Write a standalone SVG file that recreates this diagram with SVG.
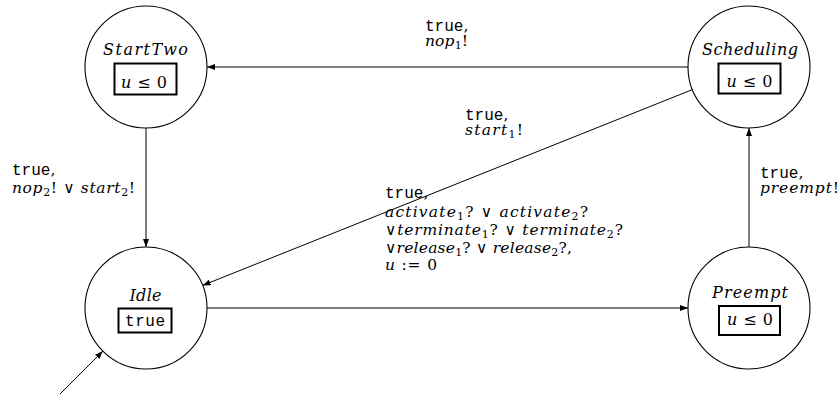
<svg xmlns="http://www.w3.org/2000/svg" width="840" height="394" viewBox="0 0 840 394">
<style>
.bg{fill:#fff}
.node{fill:#fff;stroke:#000;stroke-width:1.1}
.inv{fill:none;stroke:#000;stroke-width:2}
.edge{fill:none;stroke:#000;stroke-width:1}
.m{font-family:'DejaVu Serif','Liberation Serif',serif;font-size:16px;font-style:italic;fill:#000}
.e{font-family:'DejaVu Serif','Liberation Serif',serif;font-size:15.5px;font-style:italic;fill:#000}
.r{font-style:normal}
.s{font-size:11px;font-style:normal}
.tt{font-family:'Liberation Mono','DejaVu Sans Mono',monospace;font-size:16px;font-style:normal}
</style>
<defs>
<marker id="arr" viewBox="0 0 8 6" markerWidth="8" markerHeight="6" refX="8" refY="3" orient="auto" markerUnits="userSpaceOnUse">
<path d="M0,0 L8,3 L0,6 z" fill="#000"/>
</marker>
</defs>
<rect class="bg" x="0" y="0" width="840" height="394"/>
<g id="connectors">
<line class="edge" x1="688" y1="67" x2="207" y2="67" marker-end="url(#arr)"/>
<line class="edge" x1="146" y1="128" x2="146" y2="247" marker-end="url(#arr)"/>
<line class="edge" x1="692.4" y1="89.6" x2="202.6" y2="285.4" marker-end="url(#arr)"/>
<line class="edge" x1="207" y1="308" x2="688" y2="308" marker-end="url(#arr)"/>
<line class="edge" x1="749" y1="247" x2="749" y2="128" marker-end="url(#arr)"/>
<line class="edge" x1="60" y1="394" x2="102.9" y2="351.1" marker-end="url(#arr)"/>
</g>
<g id="node-starttwo">
<circle class="node" cx="146" cy="67" r="61"/>
<text class="m" x="145.5" y="55" text-anchor="middle" textLength="85" lengthAdjust="spacing">StartTwo</text>
<rect class="inv" x="114.5" y="63.5" width="62" height="31"/>
<text class="m" x="144" y="88" text-anchor="middle" textLength="46" lengthAdjust="spacing">u<tspan class="r"> ≤ 0</tspan></text>
</g>
<g id="node-scheduling">
<circle class="node" cx="749" cy="67" r="61"/>
<text class="m" x="750" y="55" text-anchor="middle" textLength="96" lengthAdjust="spacing">Scheduling</text>
<rect class="inv" x="718.5" y="63.5" width="62" height="30"/>
<text class="m" x="749.5" y="87" text-anchor="middle" textLength="46" lengthAdjust="spacing">u<tspan class="r"> ≤ 0</tspan></text>
</g>
<g id="node-idle">
<circle class="node" cx="146" cy="308" r="61"/>
<text class="m" x="145.5" y="301" text-anchor="middle" textLength="32" lengthAdjust="spacing">Idle</text>
<rect class="inv" x="118.5" y="308.5" width="53" height="24"/>
<text class="tt" x="145" y="326" text-anchor="middle" textLength="40" lengthAdjust="spacing">true</text>
</g>
<g id="node-preempt">
<circle class="node" cx="749" cy="308" r="61"/>
<text class="m" x="750" y="298" text-anchor="middle" textLength="76" lengthAdjust="spacing">Preempt</text>
<rect class="inv" x="719" y="306" width="61" height="29"/>
<text class="m" x="750" y="325" text-anchor="middle" textLength="46" lengthAdjust="spacing">u<tspan class="r"> ≤ 0</tspan></text>
</g>
<g id="labels">
<text class="e" x="425" y="31"><tspan class="tt">true</tspan><tspan class="r">,</tspan></text>
<text class="e" x="425" y="46" textLength="43" lengthAdjust="spacing">nop<tspan class="s" dy="3">1</tspan><tspan class="r" dy="-3">!</tspan></text>
<text class="e" x="465" y="120"><tspan class="tt">true</tspan><tspan class="r">,</tspan></text>
<text class="e" x="465" y="134.5" textLength="58" lengthAdjust="spacing">start<tspan class="s" dy="3">1</tspan><tspan class="r" dy="-3">!</tspan></text>
<text class="e" x="12" y="175"><tspan class="tt">true</tspan><tspan class="r">,</tspan></text>
<text class="e" x="12" y="193" textLength="123" lengthAdjust="spacing">nop<tspan class="s" dy="3">2</tspan><tspan class="r" dy="-3">! ∨ </tspan>start<tspan class="s" dy="3">2</tspan><tspan class="r" dy="-3">!</tspan></text>
<text class="e" x="385" y="198"><tspan class="tt">true</tspan><tspan class="r">,</tspan></text>
<text class="e" x="385" y="216.5" textLength="203" lengthAdjust="spacing">activate<tspan class="s" dy="3">1</tspan><tspan class="r" dy="-3">? ∨ </tspan>activate<tspan class="s" dy="3">2</tspan><tspan class="r" dy="-3">?</tspan></text>
<text class="e" x="385" y="235" textLength="238" lengthAdjust="spacing"><tspan class="r">∨</tspan>terminate<tspan class="s" dy="3">1</tspan><tspan class="r" dy="-3">? ∨ </tspan>terminate<tspan class="s" dy="3">2</tspan><tspan class="r" dy="-3">?</tspan></text>
<text class="e" x="385" y="253" textLength="187" lengthAdjust="spacing"><tspan class="r">∨</tspan>release<tspan class="s" dy="3">1</tspan><tspan class="r" dy="-3">? ∨ </tspan>release<tspan class="s" dy="3">2</tspan><tspan class="r" dy="-3">?,</tspan></text>
<text class="e" x="385" y="270" textLength="52" lengthAdjust="spacing">u<tspan class="r"> := 0</tspan></text>
<text class="e" x="760" y="178"><tspan class="tt">true</tspan><tspan class="r">,</tspan></text>
<text class="e" x="760" y="193" textLength="79" lengthAdjust="spacing">preempt<tspan class="r">!</tspan></text>
</g>
</svg>
